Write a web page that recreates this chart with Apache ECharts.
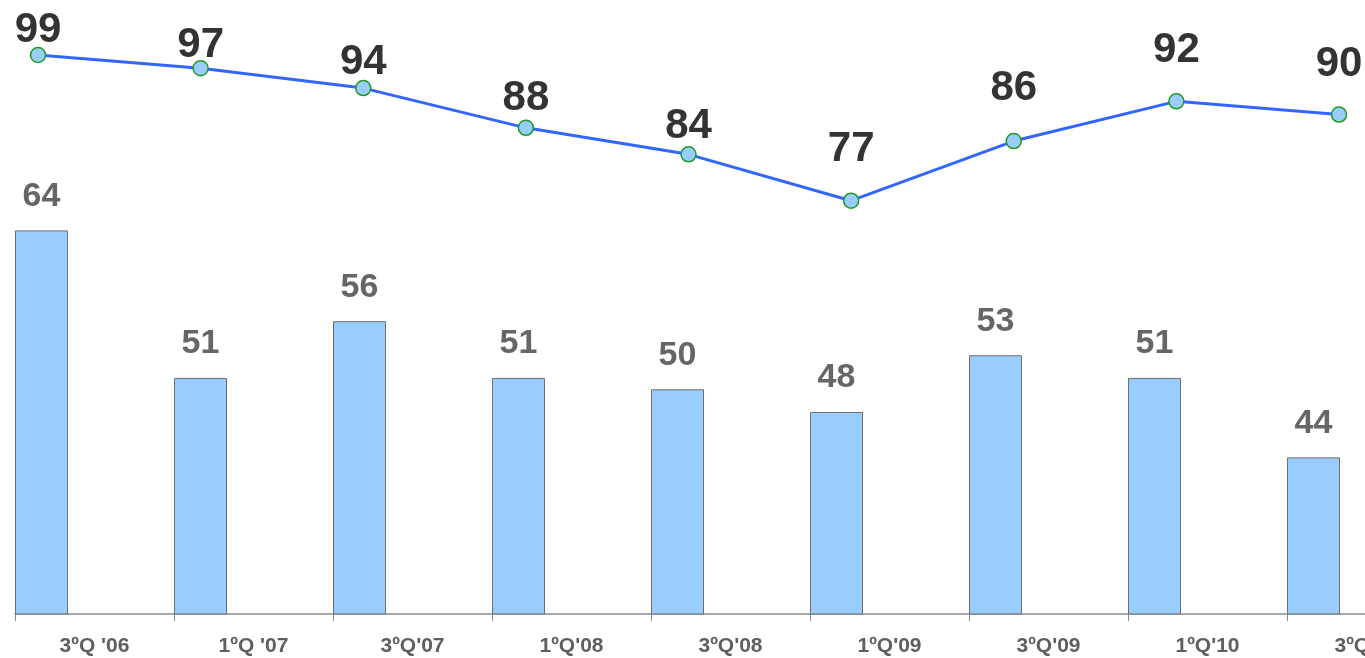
<!DOCTYPE html>
<html>
<head>
<meta charset="utf-8">
<script src="https://cdn.jsdelivr.net/npm/echarts@6/dist/echarts.min.js"></script>
<style>html,body{margin:0;padding:0;background:#fff;}#c{width:1365px;height:658px;}</style>
</head>
<body>
<div id="c"></div>
<script>
const categories = ["3ºQ '06", "1ºQ '07", "3ºQ'07", "1ºQ'08", "3ºQ'08", "1ºQ'09", "3ºQ'09", "1ºQ'10", "3ºQ'10"];
const barValues = [64, 51, 56, 51, 50, 48, 53, 51, 44];
const lineValues = [99, 97, 94, 88, 84, 77, 86, 92, 90];
const lineLabelDistance = [1, 0, 2, 6, 5, 28, 29, 28, 27];

const FONT = "'Liberation Sans', Arial, sans-serif";
const chart = echarts.init(document.getElementById('c'), null, {renderer: 'canvas'});

chart.setOption({
  animation: false,
  backgroundColor: '#ffffff',
  grid: [
    {left: 15, top: 0, width: 1431, height: 614, containLabel: false, outerBoundsMode: 'none'},
    {left: 38, top: 0, width: 1301, height: 614, containLabel: false, outerBoundsMode: 'none'}
  ],
  xAxis: [
    {
      type: 'category', gridIndex: 0, data: categories, boundaryGap: true,
      axisLine: {lineStyle: {color: '#8c8c8c', width: 1.5}},
      axisTick: {show: true, length: 7, lineStyle: {color: '#8c8c8c', width: 1}},
      axisLabel: {color: '#5f5f5f', fontFamily: FONT, fontWeight: 'bold', fontSize: 21, lineHeight: 15, margin: 25, interval: 0}
    },
    {
      type: 'category', gridIndex: 1, data: categories, boundaryGap: false, show: false
    }
  ],
  yAxis: [
    {type: 'value', gridIndex: 0, min: 30.2, max: 84.3, show: false, splitLine: {show: false}},
    {type: 'value', gridIndex: 1, min: 14.6, max: 107.3, show: false, splitLine: {show: false}}
  ],
  series: [
    {
      type: 'bar', xAxisIndex: 0, yAxisIndex: 0, data: barValues,
      barWidth: 53, barGap: '0%',
      itemStyle: {color: '#99ccff', borderColor: '#6e6e6e', borderWidth: 1},
      label: {show: true, position: 'top', distance: 22, color: '#666666', fontFamily: FONT, fontWeight: 'bold', fontSize: 34, lineHeight: 24}
    },
    {type: 'bar', xAxisIndex: 0, yAxisIndex: 0, data: [], barWidth: 53, barGap: '0%'},
    {type: 'bar', xAxisIndex: 0, yAxisIndex: 0, data: [], barWidth: 53, barGap: '0%'},
    {
      type: 'line', xAxisIndex: 1, yAxisIndex: 1,
      data: lineValues.map((v, i) => ({value: v, label: {distance: lineLabelDistance[i]}})),
      symbol: 'circle', symbolSize: 15, clip: false,
      lineStyle: {color: '#3366ff', width: 3},
      itemStyle: {color: '#99ccff', borderColor: '#1f9a1f', borderWidth: 1.5},
      label: {show: true, position: 'top', color: '#333333', fontFamily: FONT, fontWeight: 'bold', fontSize: 42, lineHeight: 30}
    }
  ]
});
</script>
</body>
</html>
